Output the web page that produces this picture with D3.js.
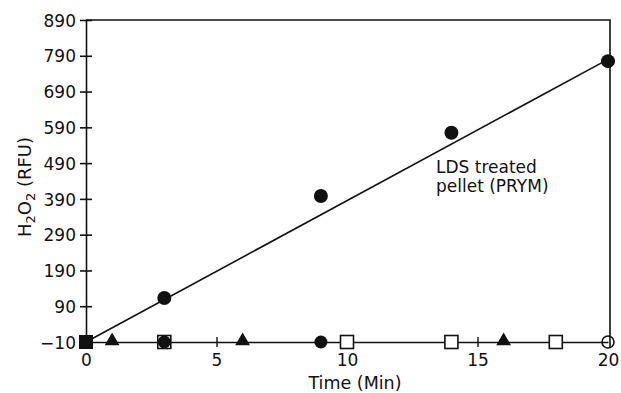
<!DOCTYPE html>
<html>
<head>
<meta charset="utf-8">
<script src="https://cdn.jsdelivr.net/npm/d3@7/dist/d3.min.js"></script>
<style>
  html, body { margin: 0; padding: 0; background: #fff; }
  svg { display: block; }
  text { font-family: "DejaVu Sans", "Liberation Sans", sans-serif; fill: #111; }
</style>
</head>
<body>
<svg id="chart" width="621" height="393"></svg>
<script>
// H2O2 production over time (RFU)
const xTicks = [0, 5, 10, 15, 20];
const yTicks = [-10, 90, 190, 290, 390, 490, 590, 690, 790, 890];

// LDS treated pellet (PRYM): filled circles
const prymTime = [0, 3, 9, 14, 20];
const prymRFU  = [-10, 113, 398, 575, 775];
const prymFit  = [[0, -10], [20, 780]];

// Control series lying on the baseline
const triTime = [1, 6, 16];
const triRFU  = [-10, -10, -10];
const sqOpenTime = [3, 10, 14, 18];
const sqOpenRFU  = [-10, -10, -10, -10];
const sqFillTime = [0];
const sqFillRFU  = [-10];
const dotBaseTime = [3, 9];
const dotBaseRFU  = [-10, -10];
const ringTime = [20];
const ringRFU  = [-10];

const svg = d3.select("#chart");
const x = d3.scaleLinear().domain([0, 20]).range([86, 608]);
const y = d3.scaleLinear().domain([-10, 890]).range([342, 20]);

const ink = "#111";

// frame: top and right edges
svg.append("path")
  .attr("d", `M${x(0)},${y(890)}H${x(20) + 2}V${y(-10) + 6}`)
  .attr("fill", "none").attr("stroke", ink).attr("stroke-width", 1.6);

// y axis
const yAxis = svg.append("g").attr("transform", `translate(${x(0)},0)`)
  .call(d3.axisLeft(y).tickValues(yTicks).tickSize(0).tickPadding(10)
        .tickFormat(d => d < 0 ? "\u2212" + Math.abs(d) : d));
yAxis.select(".domain").attr("stroke", ink).attr("stroke-width", 1.6);
yAxis.selectAll(".tick text").attr("font-size", 17).attr("dy", "0.36em");
yAxis.selectAll(".tick").append("line")
  .attr("x1", -6).attr("x2", 6).attr("stroke", ink).attr("stroke-width", 1.6);

// x axis on the baseline
const xAxis = svg.append("g").attr("transform", `translate(0,${y(-10)})`)
  .call(d3.axisBottom(x).tickValues(xTicks).tickSize(0).tickPadding(12));
xAxis.select(".domain").attr("stroke", ink).attr("stroke-width", 1.4);
xAxis.selectAll(".tick text").attr("font-size", 17);
xAxis.selectAll(".tick").filter(d => d > 0 && d < 20).append("line")
  .attr("y1", -5).attr("y2", 5).attr("stroke", ink).attr("stroke-width", 1.4);

// axis titles
svg.append("text").attr("x", 355).attr("y", 389)
  .attr("text-anchor", "middle").attr("font-size", 17.5).text("Time (Min)");

const yt = svg.append("text")
  .attr("transform", `translate(31,187) rotate(-90)`)
  .attr("text-anchor", "middle").attr("font-size", 18);
yt.append("tspan").text("H");
yt.append("tspan").attr("font-size", 13).attr("dy", 4).text("2");
yt.append("tspan").attr("dy", -4).text("O");
yt.append("tspan").attr("font-size", 13).attr("dy", 4).text("2");
yt.append("tspan").attr("dy", -4).text(" (RFU)");

// fitted line for PRYM
svg.append("path")
  .attr("d", d3.line().x(d => x(d[0])).y(d => y(d[1]))(prymFit))
  .attr("fill", "none").attr("stroke", ink).attr("stroke-width", 1.6);

// markers
const zip = (a, b) => a.map((v, i) => [v, b[i]]);

svg.append("g").selectAll("rect").data(zip(sqOpenTime, sqOpenRFU)).join("rect")
  .attr("x", d => x(d[0]) - 6.5).attr("y", d => y(d[1]) - 6.5)
  .attr("width", 13).attr("height", 13)
  .attr("fill", "#fff").attr("stroke", ink).attr("stroke-width", 1.6);

svg.append("g").selectAll("circle").data(zip(dotBaseTime, dotBaseRFU)).join("circle")
  .attr("cx", d => x(d[0])).attr("cy", d => y(d[1])).attr("r", 6.5).attr("fill", ink);

svg.append("g").selectAll("rect").data(zip(sqFillTime, sqFillRFU)).join("rect")
  .attr("x", d => x(d[0]) - 7).attr("y", d => y(d[1]) - 7)
  .attr("width", 14).attr("height", 14).attr("fill", ink);

const tri = d3.symbol().type(d3.symbolTriangle).size(95);
svg.append("g").selectAll("path").data(zip(triTime, triRFU)).join("path")
  .attr("transform", d => `translate(${x(d[0])},${y(d[1]) - 1})`)
  .attr("d", tri).attr("fill", ink);

svg.append("g").selectAll("circle").data(zip(ringTime, ringRFU)).join("circle")
  .attr("cx", d => x(d[0])).attr("cy", d => y(d[1])).attr("r", 6)
  .attr("fill", "none").attr("stroke", ink).attr("stroke-width", 1.6);

svg.append("g").selectAll("circle").data(zip(prymTime, prymRFU).filter(d => d[0] > 0)).join("circle")
  .attr("cx", d => x(d[0])).attr("cy", d => y(d[1])).attr("r", 7).attr("fill", ink);

// series annotation
const note = svg.append("text").attr("font-size", 17);
note.append("tspan").attr("x", 436).attr("y", 173).text("LDS treated");
note.append("tspan").attr("x", 436).attr("y", 192).text("pellet (PRYM)");
</script>
</body>
</html>
